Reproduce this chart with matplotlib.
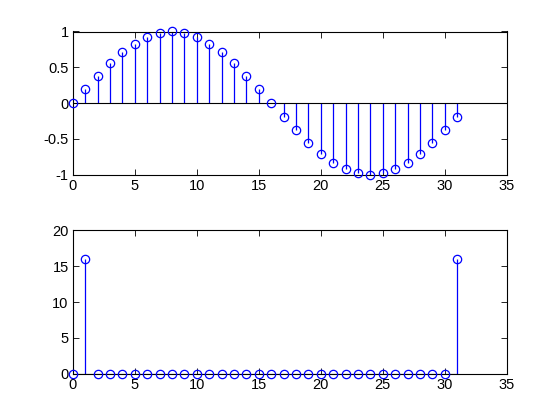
import matplotlib
matplotlib.use('Agg')
import matplotlib.pyplot as plt
import numpy as np

plt.rcParams['font.family'] = ['Liberation Sans', 'DejaVu Sans']
plt.rcParams['font.size'] = 10

# sample index and values
n = list(range(32))
x_vals = [0, 0.2, 0.38, 0.56, 0.71, 0.83, 0.92, 0.98, 1.0, 0.98, 0.92, 0.83,
          0.71, 0.56, 0.38, 0.2, 0, -0.2, -0.38, -0.56, -0.71, -0.83, -0.92,
          -0.98, -1.0, -0.98, -0.92, -0.83, -0.71, -0.56, -0.38, -0.2]
mag_vals = [0, 16] + [0] * 29 + [16]

top_yticks = [-1, -0.5, 0, 0.5, 1]
top_ylabels = ['-1', '-0.5', '0', '0.5', '1']
bot_yticks = [0, 5, 10, 15, 20]
xticks = [0, 5, 10, 15, 20, 25, 30, 35]

fig = plt.figure(figsize=(5.6, 4.2), dpi=100)
fig.patch.set_facecolor('white')

ax1 = fig.add_axes([0.13, 0.5838, 0.775, 0.3412])
ax2 = fig.add_axes([0.13, 0.11, 0.775, 0.3412])


def stem_plot(ax, xs, ys, base_end):
    ax.vlines(xs, 0, ys, colors='b', linewidth=0.9, zorder=2)
    ax.plot(xs, ys, 'o', mfc='none', mec='b', ms=6, mew=0.9, zorder=3,
            clip_on=False)
    ax.plot([xs[0], base_end], [0, 0], color='k', linewidth=0.8, zorder=2)


stem_plot(ax1, n, x_vals, 35)
stem_plot(ax2, n, mag_vals, n[-1])

ax1.set_xlim(0, 35)
ax1.set_ylim(-1, 1)
ax1.set_yticks(top_yticks)
ax1.set_yticklabels(top_ylabels)

ax2.set_xlim(0, 35)
ax2.set_ylim(0, 20)
ax2.set_yticks(bot_yticks)

for ax in (ax1, ax2):
    ax.set_xticks(xticks)
    ax.tick_params(direction='in', top=True, right=True, length=4,
                   width=0.6, labelsize=10.5, pad=3)
    for s in ax.spines.values():
        s.set_linewidth(0.8)

fig.savefig('out.png', dpi=100, facecolor='white')
